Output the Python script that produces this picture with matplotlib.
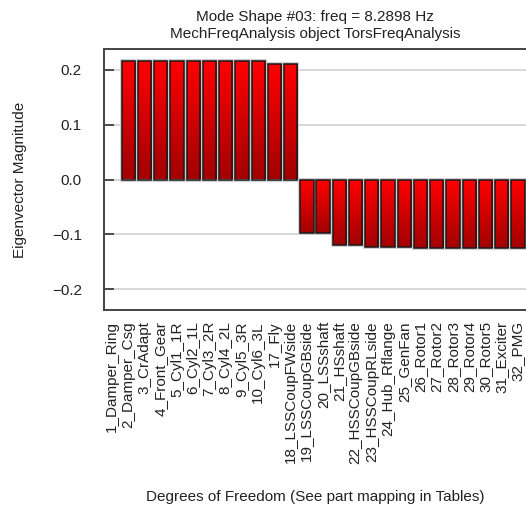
import numpy as np
import matplotlib
matplotlib.use("Agg")
import matplotlib.pyplot as plt
from matplotlib.colors import LinearSegmentedColormap

dof_labels = ['1_Damper_Ring', '2_Damper_Csg', '3_CrAdapt', '4_Front_Gear', '5_Cyl1_1R',
              '6_Cyl2_1L', '7_Cyl3_2R', '8_Cyl4_2L', '9_Cyl5_3R', '10_Cyl6_3L', '17_Fly',
              '18_LSSCoupFWside', '19_LSSCoupGBside', '20_LSSshaft', '21_HSshaft',
              '22_HSSCoupGBside', '23_HSSCoupRLside', '24_Hub_Rflange', '25_GenFan',
              '26_Rotor1', '27_Rotor2', '28_Rotor3', '29_Rotor4', '30_Rotor5',
              '31_Exciter', '32_PMG']
# eigenvector values (bars are drawn one slot to the right of their labels, as in the original)
mode_values = [0.215, 0.215, 0.215, 0.215, 0.215, 0.215, 0.215, 0.215, 0.2148, 0.210, 0.210,
               -0.097, -0.097, -0.120, -0.120, -0.1225, -0.1225, -0.1225, -0.125,
               -0.125, -0.125, -0.125, -0.125, -0.125, -0.125, -0.125]
yticks = [-0.2, -0.1, 0.0, 0.1, 0.2]

plt.rcParams['font.family'] = ['Liberation Sans', 'DejaVu Sans']
fs = 11

fig = plt.figure(figsize=(5.26, 5.16), dpi=100)
ax = fig.add_axes([104 / 526, 1 - 310 / 516, 422 / 526, 261 / 516])

n = len(dof_labels)
xpos = np.arange(n) + 1
bw = 0.82

# light halo + black outline
ax.bar(xpos, mode_values, width=bw, color='none', edgecolor='#c8c8c8', linewidth=2.6, zorder=2)
bars = ax.bar(xpos, mode_values, width=bw, color='none', edgecolor='#1a1a1a', linewidth=1.1, zorder=4)

cmap = LinearSegmentedColormap.from_list('redgrad', ['#a30000', '#ff0000'])
grad = np.linspace(1, 0, 64).reshape(-1, 1)
for b in bars:
    x0 = b.get_x()
    y0 = b.get_y()
    h = b.get_height()
    lo, hi = min(y0, y0 + h), max(y0, y0 + h)
    im = ax.imshow(grad, extent=[x0, x0 + bw, lo, hi], aspect='auto', cmap=cmap,
                   vmin=0, vmax=1, zorder=3, interpolation='bilinear')
    im.set_clip_path(b)

ax.set_xlim(-0.5, n - 0.5)
ax.set_ylim(-0.2375, 0.2375)
ax.set_yticks(yticks)
ax.set_yticklabels(['\u22120.2', '\u22120.1', '0.0', '0.1', '0.2'])
ax.set_xticks(np.arange(n))
ax.set_xticklabels(dof_labels, rotation=90, fontsize=fs, color='#222222')
ax.tick_params(axis='x', length=0, pad=8)
ax.tick_params(axis='y', direction='in', length=7, width=1.2, color='#333333',
               labelsize=fs, labelcolor='#222222', pad=16)

ax.grid(axis='y', color='#d4d4d4', linewidth=1.3, zorder=0)
ax.set_axisbelow(True)
for s in ['top', 'bottom', 'left']:
    ax.spines[s].set_color('#444444')
    ax.spines[s].set_linewidth(1.4)
ax.spines['right'].set_visible(False)

ax.set_title('Mode Shape #03: freq = 8.2898 Hz\nMechFreqAnalysis object TorsFreqAnalysis',
             fontsize=fs, color='#222222', pad=8, linespacing=1.3)
ax.set_ylabel('Eigenvector Magnitude', fontsize=fs, color='#222222', labelpad=18)
fig.text(315 / 526, 1 - 497 / 516, 'Degrees of Freedom (See part mapping in Tables)',
         ha='center', va='center', fontsize=fs, color='#222222')

fig.savefig('out.png', dpi=100)
